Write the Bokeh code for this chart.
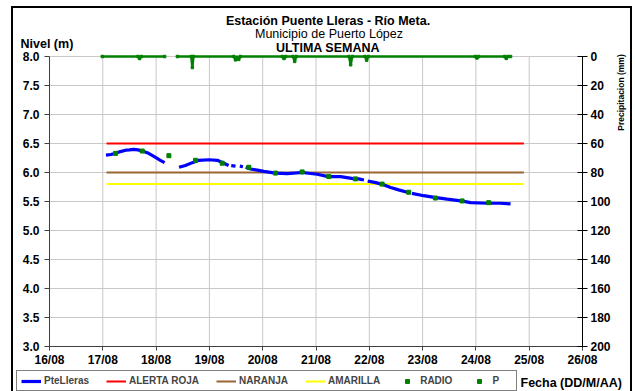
import math
from bokeh.plotting import figure
from bokeh.models import (Range1d, LinearAxis, FixedTicker, NumeralTickFormatter, Label,
                          Legend, LegendItem)
from bokeh.embed import file_html
from bokeh.resources import INLINE

nan = float("nan")

# ---------------- data ----------------
x_ticks = [16, 17, 18, 19, 20, 21, 22, 23, 24, 25, 26]
x_tick_labels = ["16/08", "17/08", "18/08", "19/08", "20/08", "21/08",
                 "22/08", "23/08", "24/08", "25/08", "26/08"]
y_ticks = [3.0, 3.5, 4.0, 4.5, 5.0, 5.5, 6.0, 6.5, 7.0, 7.5, 8.0]
precip_ticks = [0, 20, 40, 60, 80, 100, 120, 140, 160, 180, 200]

level_t = [17.06, 17.15, 17.24, 17.33, 17.43, 17.50, 17.58, 17.66, 17.74, 17.86, 17.99, 18.08, 18.16, nan,
           18.43, 18.55, 18.68, 18.80, 18.99, 19.15, 19.27, 19.36, nan,
           19.41, 19.49, nan, 19.57, 19.63, nan,
           19.68, 19.77, 19.90, 20.02, 20.24, 20.46, 20.74, 21.02, 21.23, 21.46, 21.73, 21.80, 21.90, nan,
           21.97, 22.10, 22.23, 22.40, 22.55, 22.71, nan,
           22.80, 23.02, 23.22, 23.46, 23.72, 23.90, 24.22, 24.46, 24.65]
level_v = [6.30, 6.31, 6.33, 6.36, 6.385, 6.39, 6.40, 6.39, 6.37, 6.33, 6.26, 6.21, 6.17, nan,
           6.09, 6.12, 6.17, 6.21, 6.22, 6.21, 6.16, 6.12, nan,
           6.12, 6.11, nan, 6.11, 6.10, nan,
           6.09, 6.06, 6.04, 6.02, 5.99, 5.98, 6.00, 5.97, 5.93, 5.93, 5.89, 5.89, 5.87, nan,
           5.85, 5.83, 5.80, 5.74, 5.70, 5.66, nan,
           5.64, 5.60, 5.57, 5.54, 5.51, 5.48, 5.47, 5.47, 5.46]

radio_t = [17.24, 17.74, 18.24, 18.74, 19.24, 19.74, 20.24, 20.74, 21.24, 21.74, 22.24, 22.74, 23.24, 23.74, 24.24]
radio_v = [6.33, 6.37, 6.29, 6.21, 6.16, 6.09, 5.99, 6.01, 5.93, 5.89, 5.80, 5.66, 5.56, 5.51, 5.48]

precip_t = [16.99, 17.66, 17.69, 17.72, 18.16, nan,
            18.40, 18.66, 18.68, 18.70, 19.46, 19.49, 19.52, 19.55, 19.58,
            20.37, 20.40, 20.43, 20.57, 20.60, 20.63, 21.62, 21.65, 21.68,
            21.92, 21.95, 21.98, 23.99, 24.02, 24.05, 24.54, 24.57, 24.60, 24.65]
precip_v = [0, 0, 1.4, 0, 0, nan,
            0, 0, 7.6, 0, 0, 2.3, 0.5, 2.0, 0,
            0, 1.4, 0, 0, 3.4, 0, 0, 5.7, 0,
            0, 2.5, 0, 0, 1.0, 0, 0, 1.3, 0, 0]

thr_t = [17.07, 24.90]
alerta_roja = [6.5, 6.5]
naranja = [6.0, 6.0]
amarilla = [5.8, 5.8]

TITLE = "Estación Puente Lleras - Río Meta."
SUBTITLE = "Municipio de Puerto López"
PERIOD = "ULTIMA SEMANA"
Y_LABEL = "Nivel (m)"
Y2_LABEL = "Precipitacion (mm)"
X_LABEL = "Fecha (DD/M/AA)"

# ---------------- layout (pixels) ----------------
W, H = 635, 391
PX_L, PX_R, PY_T, PY_B = 49.0, 582.0, 56.0, 346.0      # plotting area edges
x0, x1 = x_ticks[0], x_ticks[-1]
y0, y1 = y_ticks[0], y_ticks[-1]
pr0, pr1 = precip_ticks[0], precip_ticks[-1]
dx = (PX_R - PX_L) / (x1 - x0)
dy = (PY_B - PY_T) / (y1 - y0)
dp = (PY_B - PY_T) / (pr1 - pr0)

FONT = "Liberation Sans"
p = figure(width=W, height=H, output_backend="svg", toolbar_location=None,
           x_range=Range1d(x0 - PX_L / dx, x1 + (W - PX_R) / dx),
           y_range=Range1d(y0 - (H - PY_B) / dy, y1 + PY_T / dy),
           min_border_left=0, min_border_right=0, min_border_top=0, min_border_bottom=0)
p.extra_y_ranges = {"precip": Range1d(pr1 + (H - PY_B) / dp, pr0 - PY_T / dp)}
p.outline_line_color = None
p.background_fill_color = None
p.border_fill_color = None
p.grid.visible = False
# outer chart border
p.styles = {"background": ("linear-gradient(#000,#000) 11px 6px / 2px 400px no-repeat, "
                           "linear-gradient(#000,#000) 11px 6px / 621px 2px no-repeat, "
                           "linear-gradient(#000,#000) 630px 6px / 2px 400px no-repeat, #ffffff")}

# grid lines restricted to the plotting area
p.segment(x0=x_ticks, y0=[y0] * len(x_ticks), x1=x_ticks, y1=[y1] * len(x_ticks),
          line_color="#c8c8c8", line_width=1)
p.segment(x0=[x0] * len(y_ticks), y0=y_ticks, x1=[x1] * len(y_ticks), y1=y_ticks,
          line_color="#c8c8c8", line_width=1)

xa = p.xaxis[0]
xa.ticker = FixedTicker(ticks=x_ticks)
xa.major_label_overrides = {t: lab for t, lab in zip(x_ticks, x_tick_labels)}
xa.fixed_location = y0
xa.bounds = (x0, x1)
ya = p.yaxis[0]
ya.ticker = FixedTicker(ticks=y_ticks)
ya.formatter = NumeralTickFormatter(format="0.0")
ya.fixed_location = x0
ya.bounds = (y0, y1)

ra = LinearAxis(y_range_name="precip", ticker=FixedTicker(ticks=precip_ticks),
                fixed_location=x1, bounds=(pr0, pr1))
p.add_layout(ra, "right")

for ax in (xa, ya, ra):
    ax.major_label_text_font = FONT
    ax.major_label_text_font_style = "bold"
    ax.major_label_text_font_size = "12px"
    ax.major_label_text_color = "black"
    ax.minor_tick_line_color = None
    ax.axis_line_color = "#404040"
    ax.major_tick_line_color = "#404040"
    ax.major_tick_in = 0
ya.major_tick_out = 5
ya.major_label_standoff = 5
xa.major_tick_out = 4
xa.major_label_standoff = 2
ra.axis_line_color = "black"
ra.major_tick_line_color = "black"
ra.major_tick_in = 5
ra.major_tick_out = 5
ra.major_label_standoff = 3

# ---------------- glyphs ----------------
r_roja = p.line(thr_t, alerta_roja, line_color="#ff0000", line_width=2)
r_nar = p.line(thr_t, naranja, line_color="#996633", line_width=2)
r_ama = p.line(thr_t, amarilla, line_color="#ffff00", line_width=2)
r_lvl = p.line(level_t, level_v, line_color="#0000ff", line_width=3.2)
r_radio = p.scatter(radio_t, radio_v, size=4, marker="square", fill_color="#008000", line_color="#008000")
r_pl = p.line(precip_t, precip_v, line_color="#008000", line_width=2.5, y_range_name="precip")
r_ps = p.scatter(precip_t, precip_v, size=2.5, marker="square", fill_color="#008000",
                 line_color="#008000", y_range_name="precip")


def lab(text, px, py, size="12.5px", style="bold", align="center", angle=0):
    p.add_layout(Label(x=px, y=H - py, x_units="screen", y_units="screen", text=text,
                       text_font=FONT, text_font_size=size, text_font_style=style,
                       text_align=align, text_baseline="middle", angle=angle, text_color="black"))


lab(TITLE, 327.5, 20.5)
lab(SUBTITLE, 328.5, 33, style="normal")
lab(PERIOD, 327.5, 47)
lab(Y_LABEL, 20, 43, align="left")
lab(X_LABEL, 520, 382, align="left")
lab(Y2_LABEL, 620, 92, size="8.5px", angle=math.pi / 2)

legend = Legend(items=[LegendItem(label="PteLleras", renderers=[r_lvl]),
                       LegendItem(label="ALERTA ROJA", renderers=[r_roja]),
                       LegendItem(label="NARANJA", renderers=[r_nar]),
                       LegendItem(label="AMARILLA", renderers=[r_ama]),
                       LegendItem(label="RADIO", renderers=[r_radio]),
                       LegendItem(label="P", renderers=[r_ps])],
                orientation="horizontal", location=(16, 0),
                label_text_font=FONT, label_text_font_style="bold", label_text_font_size="10px",
                glyph_width=20, glyph_height=10, label_standoff=3, spacing=17, padding=4,
                margin=0, label_height=10,
                border_line_color="black", border_line_width=1, background_fill_color="white")
p.add_layout(legend, "center")

open("out.html", "w").write(file_html(p, INLINE))
